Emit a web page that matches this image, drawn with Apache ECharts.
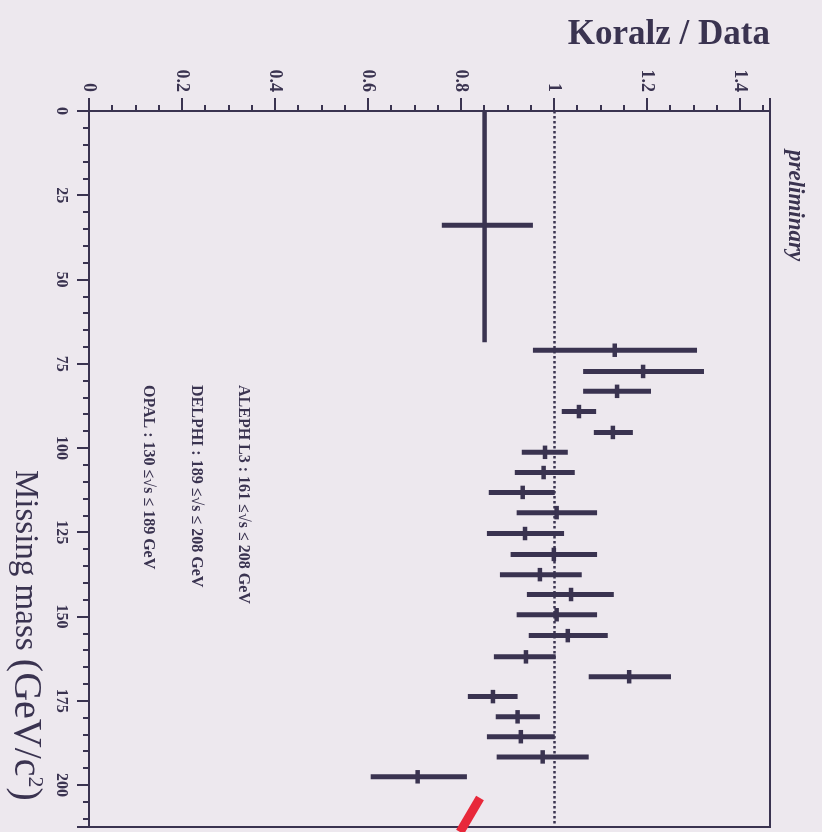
<!DOCTYPE html>
<html>
<head>
<meta charset="utf-8">
<script src="https://cdn.jsdelivr.net/npm/echarts@6/dist/echarts.min.js"></script>
<style>
html,body{margin:0;padding:0;background:#ede8ee;}
#c{width:822px;height:832px;}
</style>
</head>
<body>
<div id="c"></div>
<script>
// Missing mass bin centres (GeV/c^2) and bin edges
const mass    = [33.9, 71.0, 77.3, 83.2, 89.2, 95.4, 101.3, 107.3, 113.2, 119.2, 125.4, 131.6, 137.6, 143.5, 149.5, 155.7, 162.0, 167.9, 173.8, 179.8, 185.7, 191.7, 197.6];
const massLo  = [0.0, 69.0, 75.3, 81.2, 87.2, 93.4, 99.3, 105.3, 111.2, 117.2, 123.4, 129.6, 135.6, 141.5, 147.5, 153.7, 160.0, 165.9, 171.8, 177.8, 183.7, 189.7, 195.6];
const massHi  = [68.6, 73.0, 79.3, 85.2, 91.2, 97.4, 103.3, 109.3, 115.2, 121.2, 127.4, 133.6, 139.6, 145.5, 151.5, 157.7, 164.0, 169.9, 175.8, 181.8, 187.7, 193.7, 199.6];
// Koralz / Data ratio and its error range
const ratio   = [0.851, 1.131, 1.192, 1.136, 1.054, 1.127, 0.981, 0.978, 0.933, 1.006, 0.938, 1.000, 0.970, 1.037, 1.006, 1.030, 0.940, 1.162, 0.869, 0.922, 0.929, 0.976, 0.707];
const ratioLo = [0.759, 0.955, 1.063, 1.063, 1.017, 1.086, 0.931, 0.916, 0.860, 0.920, 0.856, 0.907, 0.884, 0.942, 0.920, 0.946, 0.871, 1.075, 0.815, 0.875, 0.856, 0.877, 0.606];
const ratioHi = [0.955, 1.308, 1.323, 1.209, 1.091, 1.170, 1.030, 1.045, 1.002, 1.093, 1.022, 1.093, 1.060, 1.129, 1.093, 1.116, 1.004, 1.252, 0.922, 0.970, 1.002, 1.075, 0.813];
// Axis ticks
const ratioTicks = [0, 0.2, 0.4, 0.6, 0.8, 1, 1.2, 1.4];
const massTicks = [0, 25, 50, 75, 100, 125, 150, 175, 200];
const legendLines = [
  'ALEPH L3 : 161 ≤√s ≤ 208 GeV',
  'DELPHI : 189 ≤√s ≤ 208 GeV',
  'OPAL : 130 ≤√s ≤ 189 GeV'
];

const ink = '#3a3350';
const serif = '"Liberation Serif", "DejaVu Serif", serif';

const data = mass.map((m, i) => [ratio[i], m, ratioLo[i], ratioHi[i], massLo[i], massHi[i]]);

const chart = echarts.init(document.getElementById('c'), null, {renderer: 'canvas'});

function fmtRatio(v) {
  for (const t of ratioTicks) if (Math.abs(t - v) < 1e-6) return String(t);
  return '';
}
function fmtMass(v) {
  for (const t of massTicks) if (Math.abs(t - v) < 1e-6) return String(t);
  return '';
}

const option = {
  backgroundColor: '#ede8ee',
  animation: false,
  grid: {left: 89, top: 111, right: 52, bottom: 5, show: true, borderColor: ink, borderWidth: 2, backgroundColor: 'transparent'},
  xAxis: {
    type: 'value', position: 'top', min: 0, max: 1.465, interval: 0.2,
    axisLine: {show: true, lineStyle: {color: ink, width: 2}},
    axisTick: {show: true, length: 13, lineStyle: {color: ink, width: 2}},
    minorTick: {show: true, splitNumber: 4, length: 6, lineStyle: {color: ink, width: 2}},
    splitLine: {show: false},
    axisLabel: {rotate: -90, margin: 19, color: ink, fontFamily: serif, fontWeight: 'bold', fontSize: 18, formatter: fmtRatio, showMaxLabel: false}
  },
  yAxis: {
    type: 'value', inverse: true, position: 'left', min: 0, max: 212.5, interval: 25,
    axisLine: {show: true, lineStyle: {color: ink, width: 2}},
    axisTick: {show: true, length: 12, lineStyle: {color: ink, width: 2}},
    minorTick: {show: true, splitNumber: 5, length: 6, lineStyle: {color: ink, width: 2}},
    splitLine: {show: false},
    axisLabel: {rotate: -90, margin: 20, color: ink, fontFamily: serif, fontWeight: 'bold', fontSize: 16, formatter: fmtMass, showMaxLabel: false}
  },
  series: [{
    type: 'custom',
    data: data,
    encode: {x: 0, y: 1},
    clip: false,
    renderItem: function (params, api) {
      const r = api.value(0), m = api.value(1);
      const a = api.coord([api.value(2), m]);
      const b = api.coord([api.value(3), m]);
      const c = api.coord([r, api.value(4)]);
      const d = api.coord([r, api.value(5)]);
      return {
        type: 'group',
        children: [
          {type: 'line', shape: {x1: a[0], y1: a[1], x2: b[0], y2: b[1]}, style: {stroke: ink, lineWidth: 5}},
          {type: 'line', shape: {x1: c[0], y1: c[1], x2: d[0], y2: d[1]}, style: {stroke: ink, lineWidth: 4.5}}
        ]
      };
    },
    markLine: {
      silent: true, symbol: ['none', 'none'], label: {show: false},
      lineStyle: {color: ink, width: 2.5, type: [2.5, 2.5]},
      data: [{xAxis: 1}]
    }
  }],
  graphic: [
    {type: 'text', right: 52, top: 17, style: {text: 'Koralz / Data', fill: ink, font: 'bold 35px ' + serif}},
    {type: 'text', x: 795, y: 150, rotation: -Math.PI / 2, style: {text: 'preliminary', fill: ink, font: 'italic bold 23px ' + serif, textAlign: 'left', textVerticalAlign: 'middle'}},
    {type: 'text', x: 25, y: 470, rotation: -Math.PI / 2, style: {
      text: '{a|Missing mass }{b|(GeV/c}{s|2}{b|)}', textAlign: 'left', textVerticalAlign: 'middle',
      rich: {
        a: {fill: ink, font: '33px ' + serif},
        b: {fill: ink, font: '40px ' + serif},
        s: {fill: ink, font: '22px ' + serif, padding: [0, 0, 20, 0]}
      }
    }},
    {type: 'text', x: 243, y: 385, rotation: -Math.PI / 2, style: {text: legendLines[0], fill: ink, font: 'bold 16px ' + serif, textAlign: 'left', textVerticalAlign: 'middle'}},
    {type: 'text', x: 196, y: 385, rotation: -Math.PI / 2, style: {text: legendLines[1], fill: ink, font: 'bold 16px ' + serif, textAlign: 'left', textVerticalAlign: 'middle'}},
    {type: 'text', x: 148, y: 385, rotation: -Math.PI / 2, style: {text: legendLines[2], fill: ink, font: 'bold 16px ' + serif, textAlign: 'left', textVerticalAlign: 'middle'}},
    {type: 'line', shape: {x1: 480, y1: 798, x2: 460, y2: 832}, style: {stroke: '#e8283a', lineWidth: 9}}
  ]
};
chart.setOption(option);
</script>
</body>
</html>
